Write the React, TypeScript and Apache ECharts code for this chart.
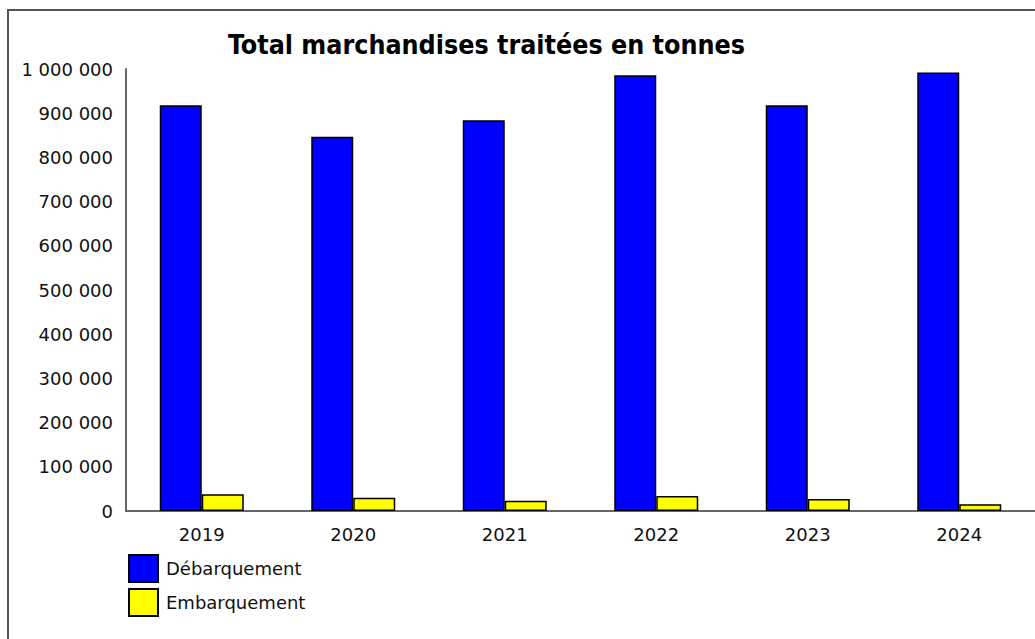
import React, { useEffect, useRef } from "react";
import * as echarts from "echarts";

const categories = ["2019", "2020", "2021", "2022", "2023", "2024"];
const debarquement = [918000, 847000, 884000, 986000, 918000, 992000];
const embarquement = [38000, 30000, 23000, 34000, 27000, 15000];
const titleText = "Total marchandises traitées en tonnes";
const seriesNames = ["Débarquement", "Embarquement"];

const fmt = (v: number) => String(v).replace(/\B(?=(\d{3})+(?!\d))/g, " ");

export default function App() {
  const ref = useRef<HTMLDivElement>(null);
  useEffect(() => {
    if (!ref.current) return;
    const chart = echarts.init(ref.current, null, { renderer: "svg" });
    const font = "DejaVu Sans";
    chart.setOption({
      animation: false,
      backgroundColor: "#fff",
      graphic: [
        {
          type: "rect",
          shape: { x: 8, y: 10, width: 1200, height: 800 },
          style: { fill: "none", stroke: "#555", lineWidth: 2 },
          silent: true,
          z: -1,
        },
      ],
      title: {
        text: titleText,
        left: 223,
        top: 26,
        textStyle: {
          fontFamily: "DejaVu Sans Condensed",
          fontWeight: "bold",
          fontSize: 26.6,
          color: "#000",
        },
      },
      legend: {
        orient: "vertical",
        left: 123,
        top: 549,
        itemWidth: 29,
        itemHeight: 27,
        itemGap: 5,
        icon: "rect",
        textStyle: { fontFamily: font, fontSize: 18, color: "#111", padding: [0, 0, 0, 3] },
        data: seriesNames,
      },
      grid: { left: 126, right: 0, top: 69, bottom: 128, containLabel: false },
      xAxis: {
        type: "category",
        data: categories,
        axisLine: { lineStyle: { color: "#666", width: 2 } },
        axisTick: { show: false },
        axisLabel: { fontFamily: font, fontSize: 18, color: "#111", margin: 14 },
      },
      yAxis: {
        type: "value",
        min: 0,
        max: 1000000,
        interval: 100000,
        axisLine: { show: true, lineStyle: { color: "#666", width: 2 } },
        axisTick: { show: false },
        splitLine: { show: false },
        axisLabel: {
          fontFamily: font,
          fontSize: 18,
          color: "#111",
          margin: 13,
          formatter: (v: number) => fmt(v),
        },
      },
      series: [
        {
          name: seriesNames[0],
          type: "bar",
          data: debarquement,
          barWidth: 42,
          barGap: "0%",
          itemStyle: { color: "#0000ff", borderColor: "#000", borderWidth: 1.5 },
        },
        {
          name: seriesNames[1],
          type: "bar",
          data: embarquement,
          barWidth: 42,
          barGap: "0%",
          itemStyle: { color: "#ffff00", borderColor: "#000", borderWidth: 1.5 },
        },
      ],
    });
    return () => chart.dispose();
  }, []);
  return (
    <div
      ref={ref}
      style={{ position: "absolute", left: 0, top: 0, width: 1035, height: 639 }}
    />
  );
}
